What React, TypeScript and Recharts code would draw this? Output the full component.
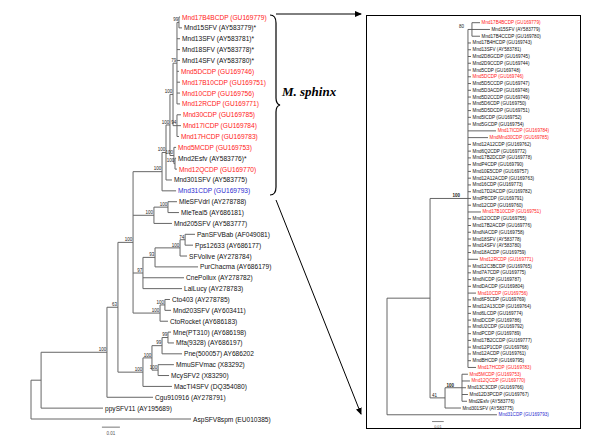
import React from 'react';
import { ComposedChart, XAxis, YAxis, ReferenceLine, Scatter, Customized } from 'recharts';

// ================= LEFT TREE DATA =================
const leftTaxa: string[] = [
  'Mnd17B4BCDP (GU169779)', 'Mnd15SFV (AY583779)*', 'Mnd13SFV (AY583781)*', 'Mnd18SFV (AY583778)*',
  'Mnd14SFV (AY583780)*', 'Mnd5DCDP (GU169746)', 'Mnd17B10CDP (GU169751)', 'Mnd10CDP (GU169756)',
  'Mnd12RCDP (GU169771)', 'Mnd30CDP (GU169785)', 'Mnd17ICDP (GU169784)', 'Mnd17HCDP (GU169783)',
  'Mnd5MCDP (GU169753)', 'Mnd2Esfv (AY583776)*', 'Mnd12QCDP (GU169770)', 'Mnd301SFV (AY583775)',
  'Mnd31CDP (GU169793)', 'MleSFVdrl (AY278788)', 'MleTeal5 (AY686181)', 'Mnd205SFV (AY583777)',
  'PanSFVBab (AF049081)', 'Pps12633 (AY686177)', 'SFVolive (AY278784)', 'PurChacma (AY686179)',
  'CnePollux (AY278782)', 'LalLucy (AY278783)', 'Cto403 (AY278785)', 'Mnd203SFV (AY603411)',
  'CtoRocket (AY686183)', 'Mne(PT310) (AY686198)', 'Mfa(9328) (AY686197)', 'Pne(500057) AY686202',
  'MmuSFVmac (X83292)', 'McySFV2 (X83290)', 'MacTI4SFV (DQ354080)', 'Cgu910916 (AY278791)',
  'ppySFV11 (AY195689)', 'AspSFV8spm (EU010385)',
];
const leftTipGroup: string[] = [
  'r', 'k', 'k', 'k', 'k', 'r', 'r', 'r', 'r', 'r', 'r', 'r', 'r', 'k', 'r', 'k', 'b', 'k', 'k', 'k',
  'k', 'k', 'k', 'k', 'k', 'k', 'k', 'k', 'k', 'k', 'k', 'k', 'k', 'k', 'k', 'k', 'k', 'k',
];
const leftTipDepth: number[] = [
  0.0828, 0.0839, 0.0828, 0.0828, 0.0828, 0.0822, 0.0828, 0.0828, 0.0828, 0.0833,
  0.0833, 0.0822, 0.0806, 0.0806, 0.0811, 0.0783, 0.0806, 0.0811, 0.0822, 0.0783,
  0.0911, 0.0900, 0.0867, 0.0928, 0.0850, 0.0839, 0.0772, 0.0778, 0.0761, 0.0778,
  0.0794, 0.0839, 0.0794, 0.0767, 0.0783, 0.0678, 0.0400, 0.0889,
];
type NodeDef = { id: string; depth: number; kids: (string | number)[]; support?: string; bold?: boolean };
const leftNodes: NodeDef[] = [
  { id: 'root', depth: 0, kids: ['A', 38] },
  { id: 'A', depth: 0.0056, kids: ['B', 37] },
  { id: 'B', depth: 0.0422, kids: ['C', 36], support: '100' },
  { id: 'C', depth: 0.0483, kids: ['D', 'M'], support: '63' },
  { id: 'D', depth: 0.0567, kids: ['MS', 'ML', 'AF', 'CT'], support: '100' },
  { id: 'MS', depth: 0.0728, kids: ['MS1', 17], support: '100' },
  { id: 'MS1', depth: 0.0750, kids: ['MS2', 16], support: '100' },
  { id: 'MS2', depth: 0.0772, kids: ['MS3', 'MS4'], support: '100' },
  { id: 'MS3', depth: 0.0789, kids: ['MS6', 'MS7'], support: '100' },
  { id: 'MS6', depth: 0.0811, kids: ['P1', 3, 4, 5, 6, 7, 8, 9], support: '79' },
  { id: 'P1', depth: 0.0822, kids: [1, 2], support: '99' },
  { id: 'MS7', depth: 0.0811, kids: [10, 11, 12], support: '94' },
  { id: 'MS4', depth: 0.0794, kids: [13, 'MS5'], support: '100' },
  { id: 'MS5', depth: 0.0800, kids: [14, 15], support: '100' },
  { id: 'ML', depth: 0.0683, kids: ['MleP', 20], support: '100' },
  { id: 'MleP', depth: 0.0761, kids: [18, 19], support: '100' },
  { id: 'AF', depth: 0.0622, kids: ['F', 25, 26], support: '97' },
  { id: 'F', depth: 0.0689, kids: ['G', 24], support: '93' },
  { id: 'G', depth: 0.0828, kids: ['H', 23], support: '100' },
  { id: 'H', depth: 0.0856, kids: [21, 22], support: '74' },
  { id: 'CT', depth: 0.0717, kids: ['CP', 29], support: '100' },
  { id: 'CP', depth: 0.0744, kids: [27, 28], support: '100' },
  { id: 'M', depth: 0.0622, kids: ['M1', 35], support: '100' },
  { id: 'M1', depth: 0.0672, kids: ['P', 'R'], support: '100' },
  { id: 'P', depth: 0.0728, kids: ['Q', 32], support: '99' },
  { id: 'Q', depth: 0.0761, kids: [30, 31], support: '99' },
  { id: 'R', depth: 0.0706, kids: [33, 34], support: '100' },
];
const leftScaleBar = { start: 0.0394, length: 0.01, row: 38.75, label: '0.01' };

// ================= RIGHT TREE DATA =================
const rightTaxa: string[] = [
  'Mnd17B4BCDP (GU169779)', 'Mnd15SFV (AY583779)', 'Mnd17B4CCDP (GU169780)', 'Mnd17B4HCDP (GU169743)',
  'Mnd13SFV (AY583781)', 'Mnd2D8GCDP (GU169745)', 'Mnd2D9CCDP (GU169744)', 'Mnd5CDP (GU169748)',
  'Mnd5DCDP (GU169746)', 'Mnd5D5CCDP (GU169747)', 'Mnd5D3ACDP (GU169748)', 'Mnd5D2CCDP (GU169749)',
  'Mnd5D6CDP (GU169750)', 'Mnd5D5DCDP (GU169751)', 'Mnd5ICDP (GU169752)', 'Mnd5GCDP (GU169754)',
  'Mnd17ICDP (GU169784)', 'MndMnd30CDP (GU169785)', 'Mnd12A12CDP (GU169762)', 'Mnd6Q2CDP (GU169772)',
  'Mnd17B2DCDP (GU169778)', 'MndP4CDP (GU169790)', 'Mnd10E5CDP (GU169757)', 'Mnd12A12ACDP (GU169763)',
  'Mnd16CDP (GU169773)', 'Mnd17D2ACDP (GU169782)', 'MndP8CDP (GU169791)', 'Mnd12CDP (GU169760)',
  'Mnd17B10CDP (GU169751)', 'Mnd12OCDP (GU169755)', 'Mnd17B2ACDP (GU169776)', 'MndNACDP (GU169758)',
  'Mnd18SFV (AY583778)', 'Mnd14SFV (AY583780)', 'Mnd18ACDP (GU169759)', 'Mnd12RCDP (GU169771)',
  'Mnd12C3BCDP (GU169765)', 'Mnd7A7CDP (GU169775)', 'MndNCDP (GU169787)', 'MndDACDP (GU169804)',
  'Mnd10CDP (GU169756)', 'Mnd6F5CDP (GU169769)', 'Mnd12A13CDP (GU169764)', 'Mnd6LCDP (GU169774)',
  'MndDCDP (GU169786)', 'MndU2CDP (GU169792)', 'MndPCDP (GU169789)', 'Mnd17B2CCDP (GU169777)',
  'Mnd12P1CDP (GU169768)', 'Mnd12ACDP (GU169761)', 'MndBHCDP (GU169795)', 'Mnd17HCDP (GU169783)',
  'Mnd5MCDP (GU169753)', 'Mnd12QCDP (GU169770)', 'Mnd13C3CDP (GU169766)', 'Mnd12D3PCDP (GU169767)',
  'Mnd2Esfv (AY583776)', 'Mnd301SFV (AY583775)', 'Mnd31CDP (GU169793)',
];
const rightTipGroup: string[] = [
  'r', 'k', 'k', 'k', 'k', 'k', 'k', 'k', 'r', 'k', 'k', 'k', 'k', 'k', 'k', 'k', 'r', 'r', 'k', 'k',
  'k', 'k', 'k', 'k', 'k', 'k', 'k', 'k', 'r', 'k', 'k', 'k', 'k', 'k', 'k', 'r', 'k', 'k', 'k', 'k',
  'r', 'k', 'k', 'k', 'k', 'k', 'k', 'k', 'k', 'k', 'k', 'r', 'r', 'r', 'k', 'k', 'k', 'k', 'b',
];
const rightTipDepth: number[] = [
  0.0795, 0.0880, 0.0795, 0.0718, 0.0718, 0.0718, 0.0718, 0.0718, 0.0718, 0.0718,
  0.0718, 0.0718, 0.0718, 0.0718, 0.0718, 0.0718, 0.0932, 0.0863, 0.0718, 0.0718,
  0.0718, 0.0718, 0.0718, 0.0718, 0.0718, 0.0718, 0.0718, 0.0718, 0.0803, 0.0718,
  0.0718, 0.0718, 0.0718, 0.0718, 0.0718, 0.0778, 0.0718, 0.0718, 0.0718, 0.0718,
  0.0761, 0.0718, 0.0718, 0.0718, 0.0718, 0.0718, 0.0718, 0.0718, 0.0718, 0.0718,
  0.0718, 0.0761, 0.0692, 0.0709, 0.0675, 0.0692, 0.0684, 0.0632, 0.0940,
];
const rightNodes: NodeDef[] = [
  { id: 'R0', depth: 0, kids: ['N1', 59] },
  { id: 'N1', depth: 0.0368, kids: ['N2', 'N3'] },
  {
    id: 'N2', depth: 0.0692, support: '100', bold: true,
    kids: ['T', 4, 5, 6, 7, 8, 9, 10, 11, 12, 13, 14, 15, 16, 17, 18, 19, 20, 21, 22, 23, 24, 25, 26, 27, 28,
      29, 30, 31, 32, 33, 34, 35, 36, 37, 38, 39, 40, 41, 42, 43, 44, 45, 46, 47, 48, 49, 50, 51, 52],
  },
  { id: 'T', depth: 0.0726, kids: [1, 2, 3], support: '80' },
  { id: 'N3', depth: 0.0496, kids: ['N4', 58], support: '41' },
  { id: 'N4', depth: 0.0641, kids: [53, 54, 55, 56, 57], support: '100', bold: true },
];
const rightScaleBar = { start: 0.0385, length: 0.01, row: 60.0, label: '0.01' };

// ================= LAYOUT / STYLE =================
const GROUP_COLOR: Record<string, string> = { r: '#ff1a1a', k: '#111111', b: '#2b2bd0' };
const SANS = 'Liberation Sans, Arial, Helvetica, sans-serif';
const LEFT = { rootPx: 31, pxPerUnit: 1800, row1Px: 17, rowPx: 10.865, width: 366, height: 448 };
const RIGHT = { left: 367, top: 16, width: 213, height: 412, rootPx: 387, pxPerUnit: 1170, row1Px: 22.7, rowPx: 6.76 };

type Seg = { x1: number; y1: number; x2: number; y2: number };

function layoutTree(nodes: NodeDef[], tipDepth: number[]) {
  const map = new Map(nodes.map((n) => [n.id, n]));
  const yCache = new Map<string, number>();
  const yOf = (k: string | number): number => {
    if (typeof k === 'number') return k;
    if (yCache.has(k)) return yCache.get(k)!;
    const n = map.get(k)!;
    const ys = n.kids.map(yOf);
    const y = (Math.min(...ys) + Math.max(...ys)) / 2;
    yCache.set(k, y);
    return y;
  };
  const dOf = (k: string | number): number => (typeof k === 'number' ? tipDepth[k - 1] : map.get(k)!.depth);
  const segs: Seg[] = [];
  const supports: { x: number; y: number; text: string; bold?: boolean }[] = [];
  nodes.forEach((n) => {
    const ys = n.kids.map(yOf);
    segs.push({ x1: n.depth, y1: Math.min(...ys), x2: n.depth, y2: Math.max(...ys) });
    n.kids.forEach((k) => {
      const ky = yOf(k);
      segs.push({ x1: n.depth, y1: ky, x2: dOf(k), y2: ky });
    });
    if (n.support) supports.push({ x: n.depth, y: yOf(n.id), text: n.support, bold: n.bold });
  });
  return { segs, supports };
}

const leftLayout = layoutTree(leftNodes, leftTipDepth);
const rightLayout = layoutTree(rightNodes, rightTipDepth);

const leftTips = leftTaxa.map((name, i) => ({ x: leftTipDepth[i], y: i + 1, name, group: leftTipGroup[i] }));
const rightTips = rightTaxa.map((name, i) => ({ x: rightTipDepth[i], y: i + 1, name, group: rightTipGroup[i] }));

const tipShape = (fontSize: number, dx: number) => (p: any) => (
  <text x={p.cx + dx} y={p.cy} dominantBaseline="central" fontSize={fontSize} fontFamily={SANS}
    fill={GROUP_COLOR[p.payload.group]}>{p.payload.name}</text>
);
const supportShape = (fontSize: number, gap: number) => (p: any) => (
  <text x={p.cx - gap} y={p.cy - 1.2} textAnchor="end" fontSize={fontSize} fontFamily={SANS}
    fontWeight={p.payload.bold ? 'bold' : 'normal'} fill="#222">{p.payload.text}</text>
);
const centerTextShape = (fontSize: number) => (p: any) => (
  <text x={p.cx} y={p.cy} textAnchor="middle" dominantBaseline="central" fontSize={fontSize} fontFamily={SANS}
    fill="#555">{p.payload.text}</text>
);

const Annotations = () => (
  <g>
    <defs>
      <marker id="arrowHead" markerWidth="7" markerHeight="6" refX="6" refY="3" orient="auto" markerUnits="userSpaceOnUse">
        <path d="M0,0 L7,3 L0,6 z" fill="#000" />
      </marker>
    </defs>
    <line x1={276} y1={14} x2={361} y2={14} stroke="#000" strokeWidth={1} markerEnd="url(#arrowHead)" />
    <line x1={276} y1={200} x2={361} y2={414} stroke="#000" strokeWidth={1} markerEnd="url(#arrowHead)" />
    <path d="M270 15 Q276 15 276 23 L276 98 Q276 104 280 105 Q276 106 276 112 L276 187 Q276 195 270 195"
      fill="none" stroke="#000" strokeWidth={1.2} />
    <text x={282} y={96} fontFamily="Liberation Serif, Times New Roman, serif" fontWeight="bold" fontStyle="italic"
      fontSize={13} fill="#000">M. sphinx</text>
  </g>
);

export default function App() {
  const lx: [number, number] = [(0 - LEFT.rootPx) / LEFT.pxPerUnit, (LEFT.width - LEFT.rootPx) / LEFT.pxPerUnit];
  const ly: [number, number] = [1 + (0 - LEFT.row1Px) / LEFT.rowPx, 1 + (LEFT.height - LEFT.row1Px) / LEFT.rowPx];
  const rx: [number, number] = [(RIGHT.left - RIGHT.rootPx) / RIGHT.pxPerUnit, (RIGHT.left + RIGHT.width - RIGHT.rootPx) / RIGHT.pxPerUnit];
  const ry: [number, number] = [1 + (RIGHT.top - RIGHT.row1Px) / RIGHT.rowPx, 1 + (RIGHT.top + RIGHT.height - RIGHT.row1Px) / RIGHT.rowPx];
  const margin = { top: 0, right: 0, bottom: 0, left: 0 };
  const lScale = [{ x: leftScaleBar.start + leftScaleBar.length / 2, y: leftScaleBar.row + 0.55, text: leftScaleBar.label }];
  const rScale = [{ x: rightScaleBar.start + rightScaleBar.length / 2, y: rightScaleBar.row + 0.75, text: rightScaleBar.label }];

  return (
    <div style={{ position: 'absolute', left: 0, top: 0, width: 600, height: 448, background: '#fff', overflow: 'hidden' }}>
      <div style={{ position: 'absolute', left: 0, top: 0 }}>
        <ComposedChart width={LEFT.width} height={LEFT.height} margin={margin}>
          <XAxis type="number" dataKey="x" domain={lx} allowDataOverflow hide />
          <YAxis type="number" dataKey="y" domain={ly} allowDataOverflow reversed hide />
          {leftLayout.segs.map((s, i) => (
            <ReferenceLine key={'ls' + i} segment={[{ x: s.x1, y: s.y1 }, { x: s.x2, y: s.y2 }]}
              stroke="#666" strokeWidth={1} ifOverflow="visible" />
          ))}
          <ReferenceLine segment={[{ x: leftScaleBar.start, y: leftScaleBar.row }, { x: leftScaleBar.start + leftScaleBar.length, y: leftScaleBar.row }]}
            stroke="#777" strokeWidth={1} ifOverflow="visible" />
          <Scatter data={leftTips} shape={tipShape(6.6, 2)} isAnimationActive={false} />
          <Scatter data={leftLayout.supports} shape={supportShape(4.5, 0.8)} isAnimationActive={false} />
          <Scatter data={lScale} shape={centerTextShape(4.5)} isAnimationActive={false} />
          <Customized component={Annotations} />
        </ComposedChart>
      </div>
      <div style={{ position: 'absolute', left: RIGHT.left - 1, top: RIGHT.top - 1, width: RIGHT.width + 2, height: RIGHT.height + 2, border: '1px solid #000', boxSizing: 'border-box' }} />
      <div style={{ position: 'absolute', left: RIGHT.left, top: RIGHT.top }}>
        <ComposedChart width={RIGHT.width} height={RIGHT.height} margin={margin}>
          <XAxis type="number" dataKey="x" domain={rx} allowDataOverflow hide />
          <YAxis type="number" dataKey="y" domain={ry} allowDataOverflow reversed hide />
          {rightLayout.segs.map((s, i) => (
            <ReferenceLine key={'rs' + i} segment={[{ x: s.x1, y: s.y1 }, { x: s.x2, y: s.y2 }]}
              stroke="#555" strokeWidth={0.9} ifOverflow="visible" />
          ))}
          <ReferenceLine segment={[{ x: rightScaleBar.start, y: rightScaleBar.row }, { x: rightScaleBar.start + rightScaleBar.length, y: rightScaleBar.row }]}
            stroke="#777" strokeWidth={0.9} ifOverflow="visible" />
          <Scatter data={rightTips} shape={tipShape(4.6, 1.6)} isAnimationActive={false} />
          <Scatter data={rightLayout.supports} shape={supportShape(4.5, 8)} isAnimationActive={false} />
          <Scatter data={rScale} shape={centerTextShape(3.8)} isAnimationActive={false} />
        </ComposedChart>
      </div>
    </div>
  );
}
